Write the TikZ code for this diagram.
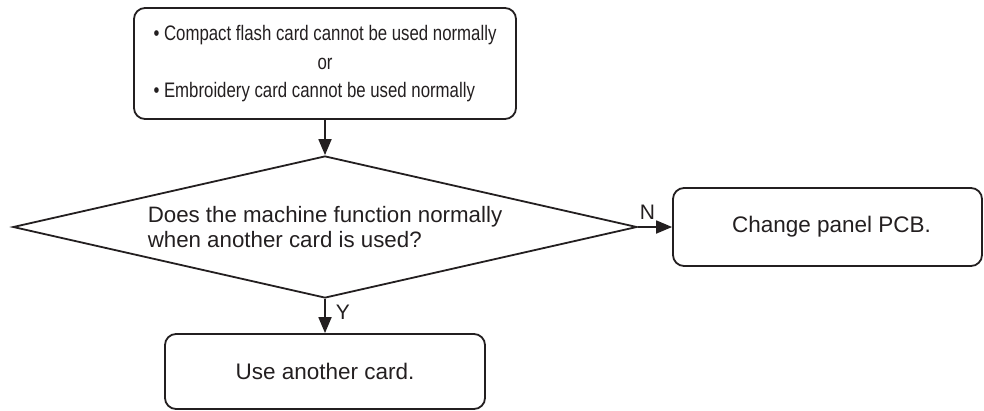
\documentclass[tikz,border=0pt]{standalone}
\usepackage{fontspec}
\setmainfont{Liberation Sans}
\newfontfamily\condfont[FakeStretch=0.8]{Liberation Sans}
\usetikzlibrary{shapes.geometric,arrows.meta}
\definecolor{ink}{HTML}{231F20}
\begin{document}
\begin{tikzpicture}[x=1pt,y=-1pt,
  box/.style={draw=ink, line width=1.8pt, rounded corners=11pt, inner sep=0pt, align=center, text=ink, font=\fontsize{22.5}{25}\selectfont},
  decision/.style={draw=ink, line width=1.8pt, diamond, aspect=4.39, inner sep=0pt, align=left, text=ink, font=\fontsize{22.3}{25}\selectfont},
  arr/.style={draw=ink, line width=1.8pt, -{Triangle[length=16pt,width=13pt]}},
  lab/.style={inner sep=0pt, text=ink, font=\fontsize{21}{21}\selectfont}
]
\useasboundingbox (0,0) rectangle (984,410);

\node[box, minimum width=382pt, minimum height=111pt] (top) at (325,63.5)
  {\condfont\fontsize{21}{28.5}\selectfont
   \begin{tabular}{@{}l@{}}
   • Compact flash card cannot be used normally\\
   \multicolumn{1}{@{}c@{}}{or}\\
   • Embroidery card cannot be used normally
   \end{tabular}};

\node[decision, minimum width=624pt, minimum height=142pt] (dia) at (325,227)
  {Does the machine function normally\\when another card is used?};

\node[box, minimum width=309pt, minimum height=78pt] (chg) at (827.5,227) {\hspace*{8pt}Change panel PCB.};

\node[box, minimum width=320pt, minimum height=75pt] (use) at (325,371.5) {Use another card.};

\draw[arr] (top.south) -- (dia.north);
\draw[arr] (dia.east) -- node[lab, pos=0, anchor=base west, xshift=1pt, yshift=8pt] (nlab) {N} (chg.west);
\draw[arr] (dia.south) -- node[lab, pos=0, anchor=north west, xshift=10pt, yshift=-5pt] (ylab) {Y} (use.north);
\end{tikzpicture}
\end{document}
